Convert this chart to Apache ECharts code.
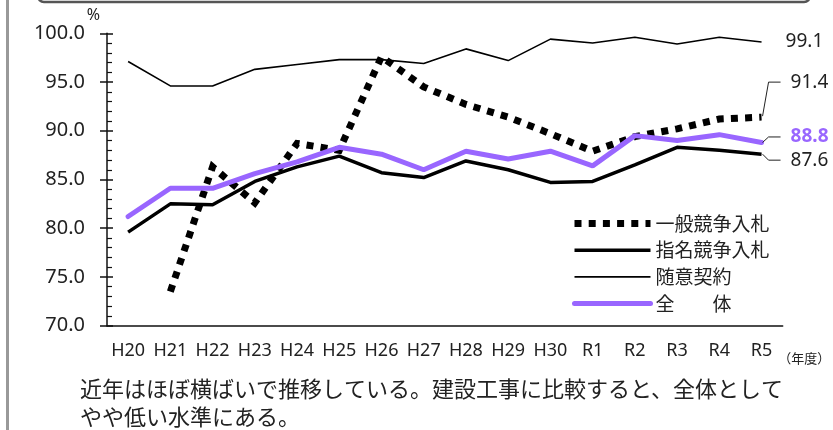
<!DOCTYPE html>
<html><head><meta charset="utf-8">
<script src="https://cdn.jsdelivr.net/npm/echarts@6/dist/echarts.min.js"></script>
<style>html,body{margin:0;padding:0;background:#fff;} #c{width:833px;height:430px;}</style>
</head><body><div id="c"></div>
<script>
const categories = ['H20','H21','H22','H23','H24','H25','H26','H27','H28','H29','H30','R1','R2','R3','R4','R5'];
const ippan  = [null, 73.5, 86.3, 82.6, 88.7, 88.0, 97.6, 94.5, 92.7, 91.4, 89.7, 87.9, 89.4, 90.2, 91.2, 91.4];
const shimei = [79.6, 82.5, 82.4, 84.8, 86.3, 87.4, 85.7, 85.2, 86.9, 86.0, 84.7, 84.8, 86.5, 88.3, 88.0, 87.6];
const zuii   = [97.1, 94.6, 94.6, 96.3, 96.8, 97.3, 97.3, 96.9, 98.4, 97.2, 99.4, 99.0, 99.6, 98.9, 99.6, 99.1];
const zentai = [81.2, 84.1, 84.1, 85.6, 86.8, 88.3, 87.6, 86.0, 87.9, 87.1, 87.9, 86.4, 89.5, 89.0, 89.6, 88.8];
const seriesNames = ['一般競争入札','指名競争入札','随意契約','全　　体'];
const yMin = 70, yMax = 100, yStep = 5;
const caption1 = '近年はほぼ横ばいで推移している。建設工事に比較すると、全体として';
const caption2 = 'やや低い水準にある。';

const NUMF = '"Noto Sans", "DejaVu Sans", sans-serif';
const JPF = '"Noto Sans CJK JP", sans-serif';
const PURPLE = '#9966ff';
const DOT = [7, 7.2];
const styles = [
  {color: '#000', width: 7, type: DOT, cap: 'butt', join: 'miter'},
  {color: '#000', width: 3.5, type: 'solid', cap: 'butt'},
  {color: '#000', width: 1.6, type: 'solid', cap: 'butt'},
  {color: PURPLE, width: 5, type: 'solid', cap: 'round'}
];
const chart = echarts.init(document.getElementById('c'), null, {renderer: 'canvas'});

const option = {
  animation: false,
  backgroundColor: '#fff',
  grid: {left: 107, right: 44, top: 33.3, bottom: 104.3, containLabel: false},
  legend: {
    orient: 'vertical', left: 566, top: 209,
    itemWidth: 76, itemHeight: 20, itemGap: 7.7,
    textStyle: {fontFamily: JPF, fontSize: 19, color: '#222'},
    itemStyle: {opacity: 0},
    data: seriesNames.map((n, i) => ({name: n, lineStyle: Object.assign({}, styles[i])}))
  },
  xAxis: {
    type: 'category', data: categories, boundaryGap: true,
    axisLine: {lineStyle: {color: '#111', width: 1.5}},
    axisTick: {alignWithLabel: true, interval: 0, length: 5, lineStyle: {color: '#111', width: 1.5}},
    axisLabel: {interval: 0, fontFamily: NUMF, fontSize: 18, color: '#222', margin: 16},
    name: '（年度）', nameLocation: 'end', nameGap: -6,
    nameTextStyle: {fontFamily: JPF, fontSize: 13, color: '#222', verticalAlign: 'top', padding: [26,0,0,0]}
  },
  yAxis: [{
    type: 'value', min: yMin, max: yMax, interval: yStep,
    axisLine: {show: true, lineStyle: {color: '#111', width: 1.5}},
    axisTick: {show: true, inside: true, length: 6, lineStyle: {color: '#111', width: 1.5}},
    minorTick: {show: true, splitNumber: 5, length: 5, lineStyle: {color: '#111', width: 1.2}},
    splitLine: {show: false},
    axisLabel: {fontFamily: NUMF, fontSize: 20, color: '#222', margin: 22, formatter: v => v.toFixed(1)},
    name: '%', nameLocation: 'end', nameGap: 0,
    nameTextStyle: {fontFamily: NUMF, fontSize: 16, color: '#222', align: 'right', padding: [0,7,0,0]}
  }, {
    type: 'value', min: yMin, max: yMax, interval: yStep, position: 'left',
    axisLine: {show: false}, axisLabel: {show: false}, splitLine: {show: false},
    axisTick: {show: true, inside: false, length: 7, lineStyle: {color: '#111', width: 1.5}}
  }],
  series: [
    {name: seriesNames[0], type: 'line', data: ippan, symbol: 'none', showSymbol: false, z: 3,
     lineStyle: styles[0], itemStyle: {color: '#000'}},
    {name: seriesNames[1], type: 'line', data: shimei, symbol: 'none', showSymbol: false, z: 2,
     lineStyle: styles[1], itemStyle: {color: '#000'}},
    {name: seriesNames[2], type: 'line', data: zuii, symbol: 'none', showSymbol: false, z: 2,
     lineStyle: styles[2], itemStyle: {color: '#000'}},
    {name: seriesNames[3], type: 'line', data: zentai, symbol: 'none', showSymbol: false, z: 4,
     lineStyle: styles[3], itemStyle: {color: PURPLE}}
  ]
};
chart.setOption(option);

// end-value annotations computed through the chart's own scales
const last = categories.length - 1;
const ends = [
  {vals: zuii, dy: 0, leader: false, color: '#222', bold: false},
  {vals: ippan, dy: -35, leader: true, color: '#222', bold: false},
  {vals: zentai, dy: -5.5, leader: true, color: PURPLE, bold: true},
  {vals: shimei, dy: 6, leader: true, color: '#222', bold: false}
];
const g = [];
ends.forEach(e => {
  const v = e.vals[last];
  const p = chart.convertToPixel({xAxisIndex: 0, yAxisIndex: 0}, [last, v]);
  if (e.leader) {
    g.push({type: 'polyline', silent: true, z: 10,
      shape: {points: [[p[0] + 1, p[1] + (e.dy < -10 ? -1 : 0)], [p[0] + 7, p[1] + e.dy], [p[0] + 19, p[1] + e.dy]]},
      style: {stroke: '#222', lineWidth: 1, fill: null}});
  }
  g.push({type: 'text', silent: true, z: 10, x: p[0] + (e.leader ? 29 : 24), y: p[1] + e.dy,
    style: {text: v.toFixed(1), fill: e.color, font: (e.bold ? 'bold ' : '') + '19px ' + NUMF,
            textAlign: 'left', textVerticalAlign: 'middle'}});
});
// page decorations: frame pieces and caption
g.push({type: 'rect', silent: true, z: 0, shape: {x: 38, y: -20, width: 772, height: 22, r: 6},
  style: {fill: null, stroke: '#555', lineWidth: 2.5}});
g.push({type: 'rect', silent: true, z: 0, shape: {x: 6, y: 0, width: 3, height: 430},
  style: {fill: '#999'}});
g.push({type: 'text', silent: true, x: 80, y: 389,
  style: {text: caption1, fill: '#222', font: '22px ' + JPF, textVerticalAlign: 'middle'}});
g.push({type: 'text', silent: true, x: 80, y: 417,
  style: {text: caption2, fill: '#222', font: '22px ' + JPF, textVerticalAlign: 'middle'}});
chart.setOption({graphic: g});
</script></body></html>
